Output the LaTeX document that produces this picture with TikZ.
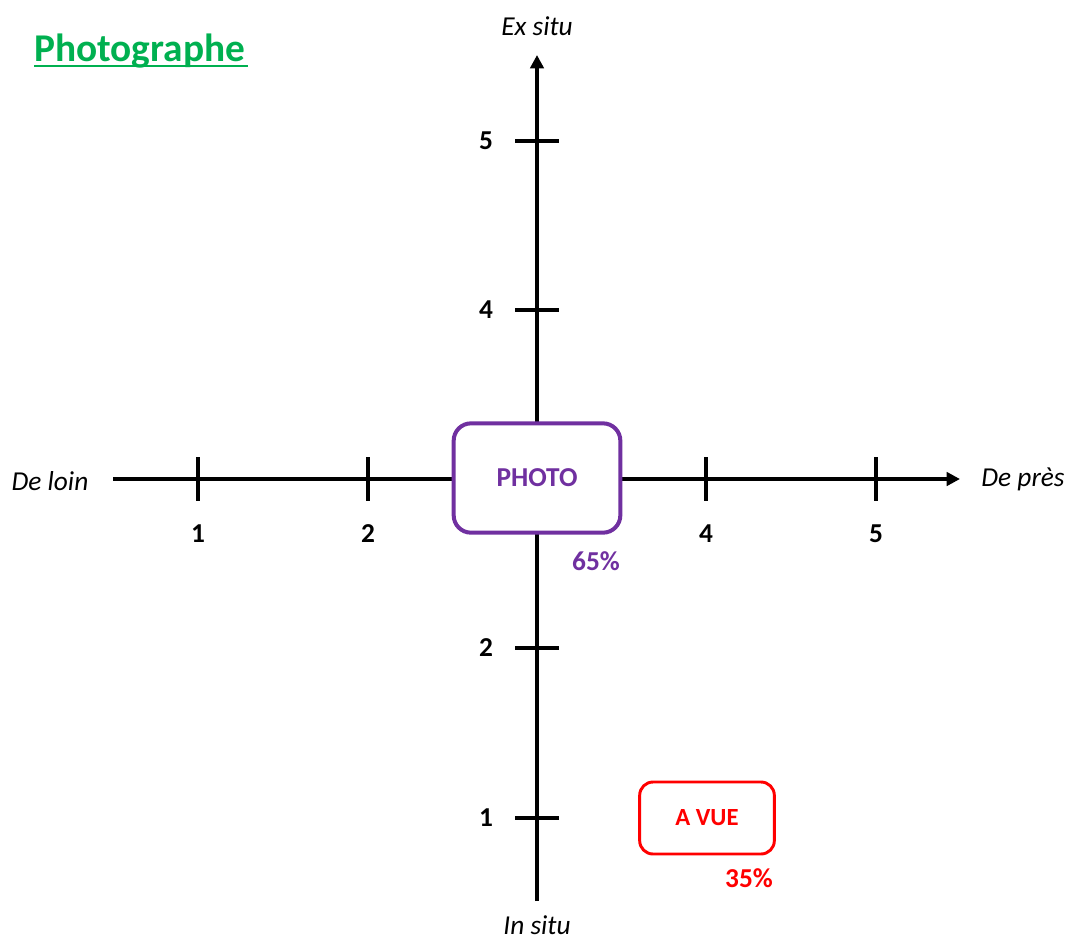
\documentclass[tikz,border=0pt]{standalone}
\usepackage{fontspec}
\setmainfont{Carlito}
\usetikzlibrary{arrows.meta}
\definecolor{photopurple}{HTML}{7030A0}
\definecolor{titlegreen}{HTML}{00B050}
\definecolor{vuered}{HTML}{FF0000}
\begin{document}
\begin{tikzpicture}[x=0.75pt,y=-0.75pt,
  axis/.style={line width=3pt,-{Triangle[length=10pt,width=10pt]}},
  tickmark/.style={line width=2.6pt},
  num/.style={font=\fontsize{20.5}{24}\selectfont\bfseries,inner sep=0pt},
  axlabel/.style={font=\fontsize{20.5}{24}\selectfont\itshape,inner sep=0pt},
  photobox/.style={draw=photopurple,line width=3pt,rounded corners=13pt,fill=white,minimum width=125pt,minimum height=82pt,text=photopurple,font=\fontsize{20.5}{24}\selectfont\bfseries},
  vuebox/.style={draw=vuered,line width=2.2pt,rounded corners=10pt,fill=white,minimum width=101pt,minimum height=54pt,text=vuered,font=\fontsize{18.5}{22}\selectfont\bfseries},
  pct/.style={font=\fontsize{20.5}{24}\selectfont\bfseries,inner sep=0pt}
]
\useasboundingbox (0,0) rectangle (1066,940);
% title
\node[text=titlegreen,anchor=west,inner sep=0pt,text depth=0pt] (title) at (34,48) {\fontsize{29.5}{34}\selectfont\bfseries Photographe};
\coordinate (ula) at (34,66);
\coordinate (ulb) at (248,66);
\draw[titlegreen,line width=1.8pt] (ula) -- (ulb);
% axis ends
\coordinate (xl) at (113,479);
\coordinate (xr) at (960,479);
\coordinate (yb) at (537,901);
\coordinate (yt) at (537,55);
\draw[axis] (xl) -- (xr);
\draw[axis] (yb) -- (yt);
% ticks on horizontal axis
\foreach \x/\n in {198/1,368/2,706/4,876/5}{
  \coordinate (hta\n) at (\x,457);
  \coordinate (htb\n) at (\x,501);
  \draw[tickmark] (hta\n) -- (htb\n);
  \node[num] (hn\n) at (\x,534) {\n};
}
% ticks on vertical axis
\foreach \y/\n in {141/5,310/4,648/2,818/1}{
  \coordinate (vta\n) at (515,\y);
  \coordinate (vtb\n) at (559,\y);
  \draw[tickmark] (vta\n) -- (vtb\n);
  \node[num] (vn\n) at (486,\y) {\n};
}
% axis labels
\node[axlabel] (exsitu) at (537,26) {Ex situ};
\node[axlabel] (insitu) at (537,925) {In situ};
\node[axlabel] (deloin) at (50,481) {De loin};
\node[axlabel] (depres) at (1023,479) {De près};
% boxes
\node[photobox] (photo) at (537,478) {PHOTO};
\node[pct,text=photopurple] (p65) at (596,561) {65\%};
\node[vuebox] (avue) at (707,818) {A VUE};
\node[pct,text=vuered] (p35) at (749,878) {35\%};
\end{tikzpicture}
\end{document}
